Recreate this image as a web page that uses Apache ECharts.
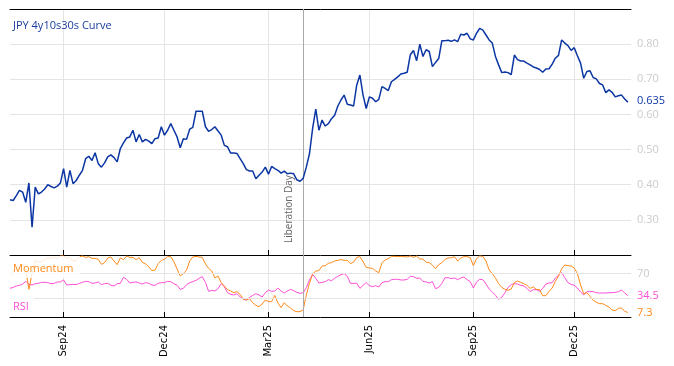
<!DOCTYPE html>
<html><head><meta charset="utf-8">
<script src="https://cdn.jsdelivr.net/npm/echarts@6/dist/echarts.min.js"></script>
<style>html,body{margin:0;padding:0;background:#fff}#c{width:674px;height:366px}</style>
</head><body><div id="c"></div>
<script>
// ---- data (one point every 2 business days from 17 Jul 2024) ----
const startDate = '2024-07-17';
const stepBusinessDays = 2;
const categoryCount = 198;
const titleText = 'JPY 4y10s30s Curve';
const liberationDate = '2025-04-02';
const liberationText = 'Liberation Day';
const monthNames = ['Jan','Feb','Mar','Apr','May','Jun','Jul','Aug','Sep','Oct','Nov','Dec'];
const tickMonths = [2,5,8,11];

const price = [
.357,.355,.369,.384,.379,.350,.405,.279,.393,.374,
.379,.388,.400,.395,.391,.396,.405,.446,.393,.441,
.403,.412,.427,.441,.474,.481,.469,.491,.460,.450,
.462,.479,.485,.477,.465,.503,.519,.533,.536,.555,
.522,.543,.522,.529,.524,.517,.531,.533,.565,.541,
.555,.574,.555,.536,.505,.531,.529,.558,.563,.609,
.609,.609,.565,.552,.557,.565,.553,.541,.512,.508,
.490,.490,.489,.474,.460,.443,.439,.439,.417,.427,
.436,.450,.430,.452,.446,.441,.433,.439,.431,.433,
.431,.414,.410,.418,.450,.488,.560,.615,.555,.584,
.567,.574,.588,.598,.624,.641,.655,.629,.627,.624,
.684,.712,.655,.617,.650,.646,.636,.643,.679,.674,
.668,.693,.700,.707,.715,.717,.720,.770,.782,.753,
.800,.765,.784,.779,.736,.748,.759,.810,.810,.811,
.808,.812,.807,.828,.826,.831,.815,.812,.831,.845,
.840,.826,.812,.803,.765,.741,.719,.721,.719,.713,
.769,.756,.752,.752,.746,.741,.735,.732,.728,.720,
.729,.730,.743,.760,.768,.812,.803,.796,.782,.790,
.767,.746,.703,.722,.724,.705,.701,.688,.684,.662,
.670,.663,.650,.653,.655,.644,.635];

const momentum = [
67.7,73.1,78.5,78.5,85.5,76.9,44.6,70.4,90.9,89.2,
88.7,93.5,95.2,94.1,96.8,94.6,98.4,98.4,94.6,96.2,
89.8,91.4,96.8,98.4,96.2,97.3,94.6,94.6,93.0,84.9,
87.6,95.2,96.8,90.3,84.4,95.2,92.5,98.4,96.2,96.2,
92.5,95.7,88.2,85.5,81.2,74.7,75.8,86.0,91.4,93.0,
97.8,97.3,89.2,77.4,66.1,70.4,75.3,90.3,96.8,97.8,
96.8,96.2,85.5,78.5,74.2,62.9,66.1,55.4,50.0,44.1,
41.9,39.2,40.9,36.6,29.0,27.4,29.6,23.1,18.8,16.7,
21.0,27.4,24.7,24.7,34.9,22.6,15.1,23.1,17.7,14.5,
10.2,8.6,8.6,11.3,35.5,54.3,69.4,74.2,74.7,82.3,
82.8,86.6,87.6,90.3,91.4,92.5,91.4,91.4,86.0,88.7,
96.2,97.3,89.2,80.1,79.0,78.5,74.2,71.5,87.6,91.9,
94.1,97.8,97.8,97.3,97.8,97.3,96.8,98.4,96.2,98.4,
93.5,93.5,88.2,87.6,83.9,78.0,84.4,87.6,93.0,95.2,
95.7,97.3,90.3,95.2,97.3,97.3,95.7,82.8,94.1,98.4,
97.8,90.3,75.8,69.9,62.9,53.8,47.8,44.6,43.0,45.2,
55.4,58.1,55.9,53.8,51.1,46.2,48.4,44.6,44.1,34.4,
34.4,41.4,46.8,57.5,66.1,78.0,83.9,82.8,82.3,79.0,
69.9,51.6,37.6,39.2,33.3,26.9,23.7,21.5,21.5,18.8,
16.1,11.3,10.2,14.0,14.5,9.1,7.3];

const rsi = [
46.2,47.8,50.0,51.1,53.2,57.5,52.7,51.6,53.8,54.3,
55.9,55.9,55.4,53.8,54.3,56.5,56.5,59.7,51.6,52.2,
52.7,52.2,54.3,55.9,57.5,57.0,54.3,54.8,56.5,52.2,
53.8,54.3,51.1,50.0,53.8,54.3,64.0,60.8,54.8,55.9,
56.5,54.8,53.2,55.4,54.3,51.6,51.1,54.3,55.4,55.4,
57.5,57.0,53.8,51.1,44.6,46.2,52.2,55.4,57.0,59.1,
62.4,65.1,55.9,41.4,43.0,41.9,45.7,53.8,48.9,39.2,
36.6,35.5,37.6,32.3,28.5,27.4,31.7,34.9,37.6,35.5,
32.3,39.2,43.5,41.4,41.9,46.8,41.9,38.7,41.9,44.6,
42.5,39.8,38.2,39.2,47.3,59.7,68.8,62.4,54.8,55.9,
57.0,60.2,58.6,62.4,65.6,68.3,69.9,65.6,54.3,54.3,
54.3,46.2,51.1,55.4,50.5,48.9,50.5,48.4,55.4,57.0,
57.0,60.2,60.8,60.8,59.7,59.7,60.8,65.6,65.1,62.4,
62.9,57.5,56.5,54.8,57.0,45.7,47.8,54.3,63.4,63.4,
61.8,62.9,60.2,62.9,64.5,60.2,57.0,46.8,56.5,60.8,
60.2,53.2,45.2,40.3,34.9,28.5,31.7,39.2,47.8,52.2,
53.8,53.2,51.1,50.0,46.2,40.9,44.1,44.1,41.4,46.2,
53.2,54.8,55.4,62.4,67.7,71.5,63.4,55.4,52.7,51.1,
46.8,40.3,35.5,40.9,40.9,40.9,39.2,38.7,38.7,38.7,
39.2,39.2,39.8,40.9,43.5,38.7,34.5];

const priceRange = [0.2, 0.9];
const priceStep = 0.1;
const oscRange = [0, 100];
const rsiBands = [30, 70];

// ---- build categories (business days) ----
function buildDates(start, n, step) {
  const out = [];
  const d = new Date(start + 'T00:00:00Z');
  let count = 0;
  while (out.length < n) {
    const wd = d.getUTCDay();
    if (wd !== 0 && wd !== 6) {
      if (count % step === 0) out.push(d.toISOString().slice(0, 10));
      count++;
    }
    d.setUTCDate(d.getUTCDate() + 1);
  }
  return out;
}
const dates = buildDates(startDate, categoryCount, stepBusinessDays);
const monthOf = s => parseInt(s.slice(5, 7), 10) - 1;
function isTick(i) {
  if (i === 0) return false;
  const m = monthOf(dates[i]);
  return m !== monthOf(dates[i - 1]) && tickMonths.includes(m);
}
const tickFn = (i) => isTick(i);
const libIdx = dates.findIndex(d => d >= liberationDate);

const BLUE = '#0b36a3', ORANGE = '#ff8a1a', PINK = '#ff4fd6', GRID = '#e4e4e4', LBL = '#cbcbcb';
const FONT = 'Open Sans';
const HIDDEN = { color: 'rgba(0,0,0,0)', width: 0 };

const catAxis = (extra) => Object.assign({
  type: 'category', data: dates, boundaryGap: false,
  axisLine: { lineStyle: { color: '#000', width: 1 } },
  axisTick: { inside: true, length: 5, interval: tickFn, lineStyle: { color: '#000' } },
  axisLabel: { show: false },
  splitLine: { show: true, interval: tickFn, lineStyle: { color: GRID, width: 1 } }
}, extra);

const chart = echarts.init(document.getElementById('c'), null, { renderer: 'canvas' });
chart.setOption({
  animation: false,
  backgroundColor: '#fff',
  grid: [
    { left: 10, right: 43, top: 9, height: 246 },
    { left: 10, right: 43, top: 255, height: 62 }
  ],
  xAxis: [
    catAxis({ gridIndex: 0 }),
    catAxis({ gridIndex: 0, position: 'top', axisTick: { show: false }, splitLine: { show: false } }),
    catAxis({ gridIndex: 1, axisLabel: {
      show: true, interval: tickFn, rotate: 90, margin: 8,
      fontFamily: 'DejaVu Sans', fontSize: 10, color: '#000',
      formatter: v => monthNames[monthOf(v)] + v.slice(2, 4)
    } })
  ],
  yAxis: [
    { type: 'value', gridIndex: 0, position: 'right', min: priceRange[0], max: priceRange[1], interval: priceStep,
      axisLine: { show: false }, axisTick: { show: false },
      axisLabel: { margin: 6, color: LBL, fontFamily: FONT, fontSize: 11,
        formatter: v => (v < priceRange[0] + 0.05 || v > priceRange[1] - 0.05) ? '' : v.toFixed(2) },
      splitLine: { lineStyle: { color: GRID } } },
    { type: 'value', gridIndex: 1, position: 'right', min: oscRange[0], max: oscRange[1],
      axisLine: { show: false }, axisTick: { show: false }, axisLabel: { show: false }, splitLine: { show: false } }
  ],
  series: [
    { type: 'line', name: 'guides', xAxisIndex: 2, yAxisIndex: 1, data: [], silent: true,
      markLine: { silent: true, symbol: 'none', animation: false,
        data: [
          { yAxis: rsiBands[0], lineStyle: { color: GRID, type: 'solid', width: 1 }, label: { show: false } },
          { yAxis: rsiBands[1], lineStyle: { color: GRID, type: 'solid', width: 1 },
            label: { show: true, position: 'end', distance: 6, formatter: String(rsiBands[1]), color: LBL, fontFamily: FONT, fontSize: 11 } },
          { xAxis: libIdx, lineStyle: { color: '#aaaaaa', type: 'solid', width: 1 }, label: { show: false } }
        ] } },
    { type: 'line', name: 'JPY 4y10s30s', xAxisIndex: 0, yAxisIndex: 0, data: price, symbol: 'none',
      lineStyle: { color: BLUE, width: 1.5 }, z: 5,
      markLine: { silent: true, symbol: 'none', animation: false,
        data: [
          { xAxis: libIdx, lineStyle: { color: '#aaaaaa', type: 'solid', width: 1 },
            label: { show: true, position: 'insideStartTop', formatter: liberationText, color: '#666', fontFamily: FONT, fontSize: 10, distance: [12, 9] } },
          { yAxis: price[price.length - 1], lineStyle: HIDDEN,
            label: { show: true, position: 'end', distance: 6, formatter: String(price[price.length - 1]), color: BLUE,
              fontFamily: FONT, fontSize: 11, backgroundColor: '#fff', padding: [1, 2, 1, 0] } }
        ] } },
    { type: 'line', name: 'RSI', xAxisIndex: 2, yAxisIndex: 1, data: rsi, symbol: 'none',
      lineStyle: { color: PINK, width: 1 }, z: 4,
      markLine: { silent: true, symbol: 'none', animation: false,
        data: [{ yAxis: rsi[rsi.length - 1], lineStyle: HIDDEN,
          label: { show: true, position: 'end', distance: 6, formatter: String(rsi[rsi.length - 1]), color: PINK, fontFamily: FONT, fontSize: 11,
            backgroundColor: '#fff' } }] } },
    { type: 'line', name: 'Momentum', xAxisIndex: 2, yAxisIndex: 1, data: momentum, symbol: 'none',
      lineStyle: { color: ORANGE, width: 1 }, z: 4,
      markLine: { silent: true, symbol: 'none', animation: false,
        data: [{ yAxis: momentum[momentum.length - 1], lineStyle: HIDDEN,
          label: { show: true, position: 'end', distance: 6, formatter: String(momentum[momentum.length - 1]), color: ORANGE, fontFamily: FONT, fontSize: 11 } }] } }
  ],
  graphic: [
    { type: 'text', left: 13, top: 20, z: 100, style: { text: titleText, fill: '#1a3d9e', font: '11px "Open Sans"' } },
    { type: 'rect', left: 10, top: 256, z: 99, shape: { width: 70, height: 22 }, style: { fill: 'rgba(255,255,255,0.8)' } },
    { type: 'text', left: 13, top: 263, z: 100, style: { text: 'Momentum', fill: ORANGE, font: '11px "Open Sans"' } },
    { type: 'rect', left: 10, top: 297, z: 99, shape: { width: 24, height: 19 }, style: { fill: 'rgba(255,255,255,0.8)' } },
    { type: 'text', left: 13, top: 301, z: 100, style: { text: 'RSI', fill: PINK, font: '11px "Open Sans"' } }
  ]
});
</script></body></html>
